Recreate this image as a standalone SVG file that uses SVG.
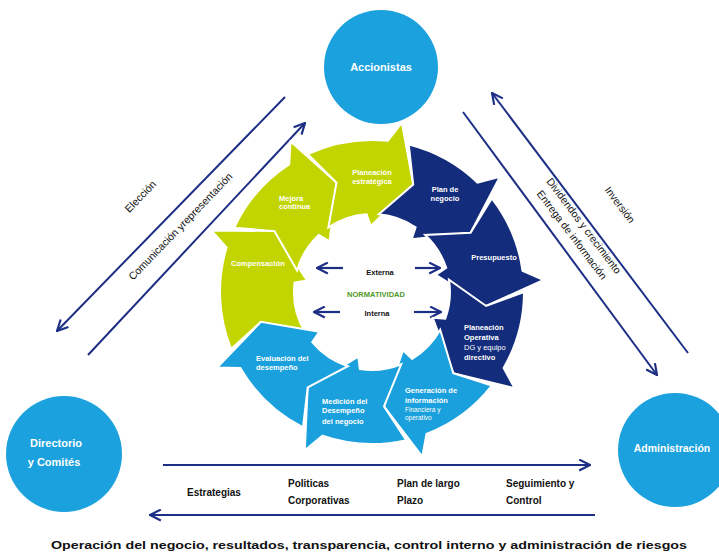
<svg xmlns="http://www.w3.org/2000/svg" width="719" height="552" viewBox="0 0 719 552">
<defs>
<marker id="ah" viewBox="0 0 12 12" refX="11" refY="6" markerWidth="13" markerHeight="13" markerUnits="userSpaceOnUse" orient="auto-start-reverse">
<path d="M1,1 L11,6 L1,11" fill="none" stroke="#1d2f85" stroke-width="2"/>
</marker>
</defs>
<style>
.ln{fill:none;stroke:#1d2f85;stroke-width:2}
.circ{fill:#1ba1dd}
.ct{font-family:"Liberation Sans",Arial,sans-serif;font-weight:bold;fill:#fff;text-anchor:middle}
.seg{stroke:#fff;stroke-width:2;stroke-linejoin:miter}
.g{fill:#c3d500}
.n{fill:#142c7c}
.b{fill:#1aa0dc}
.st{font-family:"Liberation Sans",Arial,sans-serif;font-weight:bold;fill:#fff;font-size:7.5px}
.lt{font-family:"Liberation Sans",Arial,sans-serif;fill:#111;font-size:10.5px;text-anchor:middle}
.bt{font-family:"Liberation Sans",Arial,sans-serif;font-weight:bold;fill:#111;font-size:10px}
.mid{font-family:"Liberation Sans",Arial,sans-serif;font-weight:bold;font-size:7.5px;text-anchor:middle}
</style>
<rect width="719" height="552" fill="#fff"/>

<g id="connectors">
<path class="ln" d="M285,97 L57,331" marker-end="url(#ah)"/>
<path class="ln" d="M88,355 L305,123" marker-end="url(#ah)"/>
<path class="ln" d="M688,353 L492,93" marker-end="url(#ah)"/>
<path class="ln" d="M463,112 L657,375" marker-end="url(#ah)"/>
<path class="ln" d="M163,465 L590,465" marker-end="url(#ah)"/>
<path class="ln" d="M595,515 L150,515" marker-end="url(#ah)"/>
<path class="ln" d="M343,268 L317,268" marker-end="url(#ah)" style="stroke-width:2.2"/>
<path class="ln" d="M415,268 L440,268" marker-end="url(#ah)" style="stroke-width:2.2"/>
<path class="ln" d="M340,312 L314,312" marker-end="url(#ah)" style="stroke-width:2.2"/>
<path class="ln" d="M414,312 L441,312" marker-end="url(#ah)" style="stroke-width:2.2"/>
</g>

<g id="labels-lines">
<text class="lt" transform="translate(143,199) rotate(-46)">Elección</text>
<text class="lt" transform="translate(183,229) rotate(-46)">Comunicación yrepresentación</text>
<text class="lt" transform="translate(617,207) rotate(53)">Inversión</text>
<text class="lt" transform="translate(581,228) rotate(53)">Dividendos y crecimiento</text>
<text class="lt" transform="translate(569,237) rotate(53)">Entrega de información</text>
</g>

<g id="accionistas">
<circle class="circ" cx="381" cy="67" r="57"/>
<text class="ct" x="381" y="71" font-size="11">Accionistas</text>
</g>
<g id="directorio">
<circle class="circ" cx="64" cy="454" r="58"/>
<text class="ct" x="56" y="447" font-size="11">Directorio</text>
<text class="ct" x="54" y="466" font-size="11">y Comités</text>
</g>
<g id="administracion">
<circle class="circ" cx="675" cy="450" r="57"/>
<text class="ct" x="672" y="452" font-size="10.5">Administración</text>
</g>

<g id="seg-compensacion">
<path class="seg g" d="M231.1,348.9 A152,152 0 0 1 226.6,247.6 L211.4,230.4 L274.5,231.1 L307,280.5 L294.6,282.5 A78,78 0 0 0 305.1,332.2 L260.9,321.8 Z"/>
<text class="st" x="258" y="266" text-anchor="middle">Compensación</text>
</g>
<g id="seg-mejora">
<path class="seg g" d="M234.2,227.8 A152,152 0 0 1 289.2,164.5 L290.6,141.6 L336.5,182.6 L329.6,241.4 L318.8,235 A78,78 0 0 0 297,270.5 L274.5,231.1 Z"/>
<text class="st" x="279" y="201">Mejora</text>
<text class="st" x="279" y="209">continua</text>
</g>
<g id="seg-planeacion-estrategica">
<path class="seg g" d="M307.8,154.2 A152,152 0 0 1 387.9,140.8 L401.9,122.6 L413.2,184.6 L370.8,226 L366.6,214.2 A78,78 0 0 0 328.4,227.3 L336.5,182.6 Z"/>
<text class="st" x="372" y="175" text-anchor="middle">Planeación</text>
<text class="st" x="372" y="184" text-anchor="middle">estratégica</text>
</g>
<g id="seg-plan-negocio">
<path class="seg n" d="M408.8,144.5 A152,152 0 0 1 477.6,182.7 L499.8,176.9 L470.6,232.8 L411.7,239.3 L415.6,227.3 A78,78 0 0 0 378.8,214.3 L413.2,184.6 Z"/>
<text class="st" x="445" y="192" text-anchor="middle">Plan de</text>
<text class="st" x="445" y="201" text-anchor="middle">negocio</text>
</g>
<g id="seg-presupuesto">
<path class="seg n" d="M491.8,198.4 A152,152 0 0 1 522.5,270.8 L543.6,280 L486.1,306 L435.8,274.9 L446.2,267.9 A78,78 0 0 0 425.2,235 L470.6,232.8 Z"/>
<text class="st" x="494" y="260" text-anchor="middle">Presupuesto</text>
</g>
<g id="seg-planeacion-operativa">
<path class="seg n" d="M524,292 A152,152 0 0 1 503.6,368 L514.6,388.2 L453.3,373.3 L432.8,317.8 L445.3,318.7 A78,78 0 0 0 449,279.8 L486.1,306 Z"/>
<text class="st" x="464" y="330">Planeación</text>
<text class="st" x="464" y="340">Operativa</text>
<text class="st" x="464" y="350" style="font-weight:normal">DG y equipo</text>
<text class="st" x="464" y="360">directivo</text>
</g>
<g id="seg-generacion">
<path class="seg b" d="M491.8,385.6 A152,152 0 0 1 426.5,433.9 L422.3,456.5 L384,406.4 L403,350.3 L412.2,358.9 A78,78 0 0 0 440.2,329.8 L453.3,373.3 Z"/>
<text class="st" x="405" y="393">Generación de</text>
<text class="st" x="405" y="403">información</text>
<text class="st" x="405" y="412" style="font-size:6.5px;font-weight:normal">Financiera   y</text>
<text class="st" x="405" y="420" style="font-size:6.5px;font-weight:normal">operativo</text>
</g>
<g id="seg-medicion">
<path class="seg b" d="M406.2,440.1 A152,152 0 0 1 322.5,435.7 L304.8,450.3 L307.7,387.3 L358.3,356.6 L359.8,369 A78,78 0 0 0 401.2,364.3 L384,406.4 Z"/>
<text class="st" x="322" y="404">Medición del</text>
<text class="st" x="322" y="413">Desempeño</text>
<text class="st" x="322" y="424">del negocio</text>
</g>
<g id="seg-evaluacion">
<path class="seg b" d="M303,427.4 A152,152 0 0 1 240.4,368 L217.4,367.4 L260.9,321.8 L319.3,331.7 L312.2,342.1 A78,78 0 0 0 347.9,366.2 L307.7,387.3 Z"/>
<text class="st" x="256" y="361">Evaluación del</text>
<text class="st" x="256" y="370">desempeño</text>
</g>

<g id="center">
<text class="mid" x="380" y="275" fill="#111">Externa</text>
<text class="mid" x="376" y="297" fill="#4f9a2a">NORMATIVIDAD</text>
<text class="mid" x="377" y="316" fill="#111">Interna</text>
</g>

<g id="bottom-labels">
<text class="bt" x="187" y="496">Estrategias</text>
<text class="bt" x="288" y="487">Politicas</text>
<text class="bt" x="288" y="504">Corporativas</text>
<text class="bt" x="397" y="487">Plan de largo</text>
<text class="bt" x="397" y="504">Plazo</text>
<text class="bt" x="506" y="487">Seguimiento y</text>
<text class="bt" x="506" y="504">Control</text>
<text class="bt" x="369" y="549" text-anchor="middle" font-size="13" textLength="636" lengthAdjust="spacingAndGlyphs">Operación del negocio, resultados, transparencia, control interno y administración de riesgos</text>
</g>
</svg>
